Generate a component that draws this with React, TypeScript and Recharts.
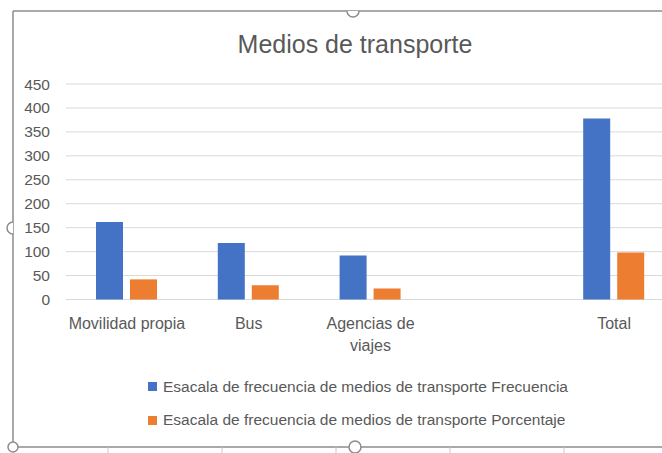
import React from "react";
import { BarChart, Bar, XAxis, YAxis, CartesianGrid, Legend, Text } from "recharts";

const categories = ["Movilidad propia", "Bus", "Agencias de viajes", "", "Total"];
const frecuencia = [162, 118, 92, null, 378];
const porcentaje = [42, 30, 23, null, 98];
const yTicks = [0, 50, 100, 150, 200, 250, 300, 350, 400, 450];

const seriesNames = {
  frecuencia: "Esacala de frecuencia de medios de transporte Frecuencia",
  porcentaje: "Esacala de frecuencia de medios de transporte Porcentaje",
};

const BLUE = "#4472C4";
const ORANGE = "#ED7D31";
const TEXT = "#595959";
const FONT = "'Liberation Sans', Arial, sans-serif";

const data = categories.map((name, i) => ({
  name,
  frecuencia: frecuencia[i],
  porcentaje: porcentaje[i],
}));

function CategoryTick(props: any) {
  const { x, y, payload } = props;
  return (
    <Text
      x={x}
      y={y}
      width={124}
      lineHeight={22}
      textAnchor="middle"
      verticalAnchor="start"
      style={{ fontSize: 16, fontFamily: FONT }}
      fontSize={16}
      fontFamily={FONT}
      fill={TEXT}
    >
      {payload.value}
    </Text>
  );
}

function LegendRows(props: any) {
  const items = props.payload || [];
  return (
    <div style={{ fontFamily: FONT, fontSize: 15.5, color: TEXT }}>
      {items.map((it: any) => (
        <div
          key={it.value}
          style={{ display: "flex", alignItems: "center", height: 33.5, whiteSpace: "nowrap" }}
        >
          <span style={{ width: 9, height: 9, background: it.color, marginRight: 6, display: "inline-block" }} />
          {it.value}
        </div>
      ))}
    </div>
  );
}

function Frame() {
  const stroke = "#8c8c8c";
  const cellLines = [108, 222, 336, 450, 564];
  return (
    <svg width={662} height={453} style={{ position: "absolute", left: 0, top: 0, pointerEvents: "none" }}>
      <line x1={13} y1={11} x2={662} y2={11} stroke={stroke} strokeWidth={1.5} />
      <line x1={13} y1={11} x2={13} y2={447} stroke={stroke} strokeWidth={1.5} />
      <line x1={13} y1={447} x2={662} y2={447} stroke={stroke} strokeWidth={1.5} />
      {cellLines.map((x) => (
        <line key={x} x1={x} y1={447} x2={x} y2={453} stroke="#c8c8c8" strokeWidth={1} />
      ))}
      <path d="M347 11 A6 6 0 0 0 359 11" fill="white" stroke={stroke} strokeWidth={1.5} />
      <path d="M13 222 A6 6 0 0 0 13 234" fill="white" stroke={stroke} strokeWidth={1.5} />
      <circle cx={13} cy={447} r={5} fill="white" stroke={stroke} strokeWidth={1.5} />
      <circle cx={355} cy={447} r={6} fill="white" stroke={stroke} strokeWidth={1.5} />
    </svg>
  );
}

export default function App() {
  return (
    <div
      style={{
        position: "absolute",
        left: 0,
        top: 0,
        width: 662,
        height: 453,
        overflow: "hidden",
        background: "#fff",
      }}
    >
      <div
        style={{
          position: "absolute",
          left: 0,
          width: 710,
          top: 28,
          textAlign: "center",
          fontFamily: FONT,
          fontSize: 25,
          color: TEXT,
          lineHeight: "32px",
        }}
      >
        Medios de transporte
      </div>
      <BarChart
        width={675}
        height={453}
        data={data}
        margin={{ top: 84, right: 0, left: 0, bottom: 0 }}
        barSize={27}
        barGap={7}
      >
        <CartesianGrid vertical={false} stroke="#d9d9d9" />
        <XAxis
          dataKey="name"
          height={153.5}
          axisLine={false}
          tickLine={false}
          interval={0}
          tick={<CategoryTick />}
          tickMargin={12}
        />
        <YAxis
          width={66}
          domain={[0, 450]}
          ticks={yTicks}
          axisLine={false}
          tickLine={false}
          tickMargin={10}
          tick={{ fontSize: 15.5, fill: TEXT, fontFamily: FONT }}
        />
        <Legend
          layout="vertical"
          align="center"
          verticalAlign="middle"
          content={<LegendRows />}
          wrapperStyle={{ left: 148, top: 370, width: 460 }}
        />
        <Bar dataKey="frecuencia" name={seriesNames.frecuencia} fill={BLUE} isAnimationActive={false} />
        <Bar dataKey="porcentaje" name={seriesNames.porcentaje} fill={ORANGE} isAnimationActive={false} />
      </BarChart>
      <Frame />
    </div>
  );
}
